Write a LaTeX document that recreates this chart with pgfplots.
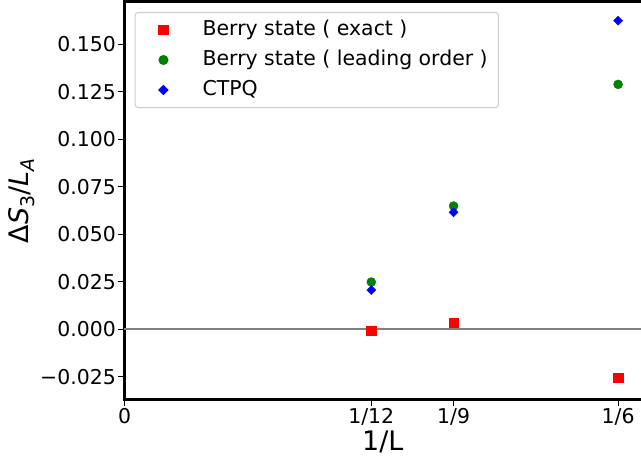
\documentclass[border=0pt]{standalone}
\usepackage{pgfplots}
\pgfplotsset{compat=1.18}
\usepackage{fontspec}
\setmainfont{DejaVu Sans}
\definecolor{mgreen}{RGB}{0,128,0}
\pgfplotsset{myleg/.style={legend image code/.code={%
  \path (0bp,-1bp) (55.7bp,1bp);
  \draw[sharp corners,fill opacity=1,draw opacity=1,##1] plot coordinates {(22bp,0bp)};}}}
\begin{document}
\begin{tikzpicture}
\begin{axis}[
  scale only axis, width=516.5bp, height=398bp,
  xmin=0, xmax=0.1744, ymin=-0.0369, ymax=0.1725,
  axis x line*=box, axis y line*=left,
  axis line style={line width=3bp, black, line cap=rect},
  xtick pos=left, ytick pos=left,
  tick align=outside, major tick length=6.5bp,
  tick style={line width=1bp, black},
  xtick={0,0.0833333,0.1111111,0.1666667},
  xticklabels={0,1/12,1/9,1/6},
  ytick={-0.025,0,0.025,0.05,0.075,0.1,0.125,0.15},
  yticklabels={−0.025,0.000,0.025,0.050,0.075,0.100,0.125,0.150},
  ticklabel style={font=\fontsize{20.5}{24}\selectfont},
  yticklabel style={inner xsep=2bp},
  xticklabel style={inner ysep=2bp},
  xlabel={1/L}, ylabel={Δ\textit{S}\textsubscript{3}/\textit{L}\textsubscript{\textit{A}}},
  label style={font=\fontsize{27}{32}\selectfont},
  legend style={at={(rel axis cs:0.0197,0.9736)}, anchor=north west,
    draw=black!20, rounded corners=3bp, fill=white, fill opacity=0.8, text opacity=1,
    line width=1bp, inner xsep=5.8bp, inner ysep=2.5bp,
    font=\fontsize{20.5}{24}\selectfont,
    nodes={inner xsep=5bp, inner ysep=5bp, text height=15.5bp, text depth=4.5bp},
    row sep=0pt},
  legend cell align=left,
  clip=false,
]
\coordinate (O) at (rel axis cs:0,0);
\addplot[gray, line width=2bp, forget plot] coordinates {(0,0) (0.1744,0)};
\addplot[only marks, mark=square*, mark size=4.65bp, color=red, myleg] coordinates {
  (0.0833333,-0.0007) (0.1111111,0.0035) (0.1666667,-0.0255)};
\addlegendentry{Berry state ( exact )}
\addplot[only marks, mark=*, mark size=4.5bp, color=mgreen, myleg] coordinates {
  (0.0833333,0.0249) (0.1111111,0.0649) (0.1666667,0.1289)};
\addlegendentry{Berry state ( leading order )}
\addplot[only marks, mark=square*, mark size=3.2bp, mark options={rotate=45}, color=blue, myleg] coordinates {
  (0.0833333,0.0207) (0.1111111,0.0616) (0.1666667,0.1624)};
\addlegendentry{CTPQ}
\end{axis}
\pgfresetboundingbox
\useasboundingbox ([shift={(-124.5bp,-59.5bp)}]O) rectangle ++(641bp,459bp);
\end{tikzpicture}
\end{document}
